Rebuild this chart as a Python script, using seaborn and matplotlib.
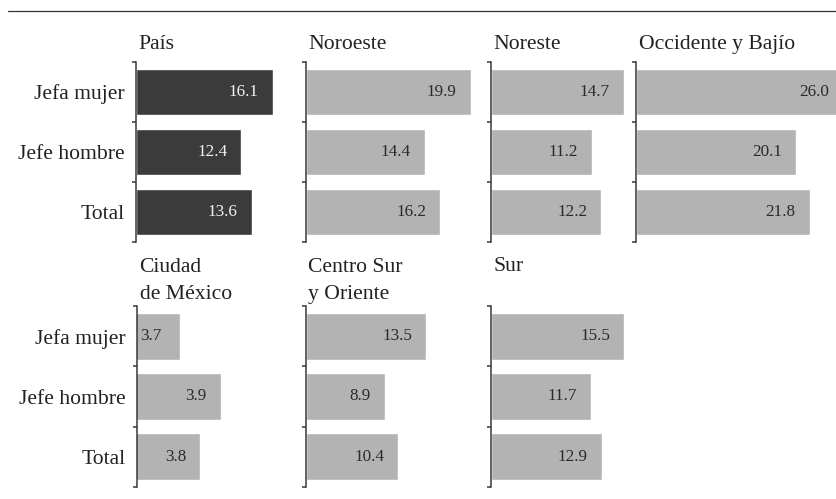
import matplotlib
matplotlib.use("Agg")
import matplotlib.pyplot as plt
from matplotlib.lines import Line2D
import seaborn as sns

# Datos: porcentaje por tipo de jefatura del hogar y región
categorias = ["Jefa mujer", "Jefe hombre", "Total"]
regiones = ["País", "Noroeste", "Noreste", "Occidente y Bajío",
            "Ciudad\nde México", "Centro Sur\ny Oriente", "Sur"]
pais = [16.1, 12.4, 13.6]
noroeste = [19.9, 14.4, 16.2]
noreste = [14.7, 11.2, 12.2]
occidente_bajio = [26.0, 20.1, 21.8]
ciudad_mexico = [3.7, 3.9, 3.8]
centro_sur_oriente = [13.5, 8.9, 10.4]
sur = [15.5, 11.7, 12.9]

series = [pais, noroeste, noreste, occidente_bajio,
          ciudad_mexico, centro_sur_oriente, sur]

# Geometría de cada panel en píxeles: (izquierda, arriba, ancho, alto,
# inicio del eje x, píxeles por unidad)
W, H = 836, 499
paneles = [
    (135.5, 62, 155, 180, 0.0, 8.54),
    (305.5, 62, 175, 180, 0.0, 8.31),
    (490.5, 62, 140, 180, 0.0, 9.09),
    (636.0, 62, 200, 180, 0.0, 7.97),
    (136.5, 306, 154, 181, 3.49, 205.0),
    (305.5, 306, 175, 181, 0.0, 8.94),
    (490.5, 306, 140, 181, 0.0, 8.61),
]
columna_izquierda = {0, 4}

OSCURO = "#3b3b3b"
GRIS = "#b3b3b3"
LINEA = "#383838"
TEXTO = "#222222"
PASO_LINEA = 28  # px entre líneas base de un título de dos renglones

sns.set_theme(style="white")
plt.rcParams["font.family"] = ["Liberation Serif", "DejaVu Serif"]

fig = plt.figure(figsize=(W / 100, H / 100), dpi=100)
fig.patch.set_facecolor("white")

# Filete superior
fig.add_artist(Line2D([8 / W, 1.0], [1 - 10.5 / H] * 2,
                      color="#333333", lw=0.9))

for idx, (nombre, valores, geo) in enumerate(zip(regiones, series, paneles)):
    left, top, width, height, x0, escala = geo
    ax = fig.add_axes([left / W, 1 - (top + height) / H, width / W, height / H])
    ax.set_facecolor("none")

    color = OSCURO if idx == 0 else GRIS
    sns.barplot(x=valores, y=categorias, orient="h", color=color,
                saturation=1, width=0.78, ax=ax)

    ax.set_xlim(x0, x0 + width / escala)
    ax.set_ylim(2.5, -0.5)
    ax.set_xlabel("")
    ax.set_ylabel("")

    for lado in ("top", "right", "bottom"):
        ax.spines[lado].set_visible(False)
    ax.spines["left"].set_color(LINEA)
    ax.spines["left"].set_linewidth(1.1)

    ax.set_xticks([])
    ax.set_yticks([-0.5, 0.5, 1.5, 2.5], minor=True)
    ax.tick_params(axis="y", which="minor", left=True, length=2.6, width=1.1,
                   color=LINEA, direction="out")
    if idx in columna_izquierda:
        ax.tick_params(axis="y", which="major", length=0, pad=8,
                       labelsize=15.6, labelcolor=TEXTO)
    else:
        ax.tick_params(axis="y", which="major", length=0, labelleft=False)

    # Etiquetas de valor dentro de cada barra
    color_txt = "#f2f2f2" if idx == 0 else "#2a2a2a"
    for i, v in enumerate(valores):
        largo_px = (v - x0) * escala
        if largo_px < 50:
            ax.annotate(f"{v:.1f}", xy=(x0, i), xytext=(4, 0),
                        textcoords="offset pixels", ha="left", va="center",
                        fontsize=12.3, color=color_txt)
        else:
            ax.annotate(f"{v:.1f}", xy=(v, i), xytext=(-14, 0),
                        textcoords="offset pixels", ha="right", va="center",
                        fontsize=12.3, color=color_txt, annotation_clip=False)

    # Título del panel (la línea base indicada es la del último renglón)
    renglones = nombre.count("\n")
    base = (49 if top < 200 else 271) + PASO_LINEA * renglones
    fig.text((left + 3) / W, 1 - base / H, nombre, ha="left", va="baseline",
             fontsize=15.6, color=TEXTO, linespacing=1.55)

fig.savefig("out.png", dpi=100, facecolor="white")
